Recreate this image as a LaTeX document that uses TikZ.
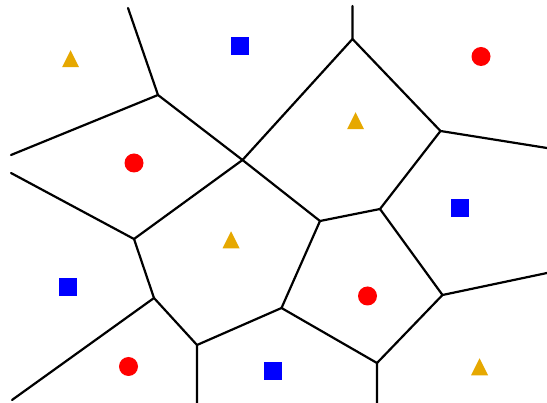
\documentclass[tikz,border=0pt]{standalone}
\usetikzlibrary{shapes.geometric}
\definecolor{siteyellow}{RGB}{230,168,0}
\begin{document}
\begin{tikzpicture}[x=1pt, y=-1pt, line join=round, line cap=round,
    edge/.style={line width=2.2pt},
    dot/.style={circle, fill=red, inner sep=0pt, minimum size=19pt},
    sq/.style={rectangle, fill=blue, inner sep=0pt, minimum size=18pt},
    tri/.style={isosceles triangle, isosceles triangle stretches, shape border rotate=90, fill=siteyellow, inner sep=0pt, minimum height=17pt, minimum width=17pt}]
		\useasboundingbox (0,0) rectangle (547,403);
		% voronoi vertices
		\path (352.5,39) coordinate (T) (440.5,131) coordinate (R) (242.5,160) coordinate (X)
			(158,95) coordinate (UL) (134,239) coordinate (L) (320,221) coordinate (M1)
			(380,209) coordinate (M2) (154,298) coordinate (BL) (197,345) coordinate (B1)
			(281.5,308) coordinate (B2) (442.5,295) coordinate (BR) (377,363) coordinate (B3);
		% open ends at the border
		\path (352.5,6) coordinate (eT) (547,148) coordinate (eR) (128,8) coordinate (eUL)
			(11,155) coordinate (eL1) (11,173) coordinate (eL2) (12,400) coordinate (eBL)
			(197,403) coordinate (eB1) (547,273) coordinate (eBR) (377,403) coordinate (eB3);
		\draw[edge] (eT)--(T) (T)--(X) (T)--(R) (R)--(eR) (R)--(M2) (M2)--(M1) (M1)--(X)
			(X)--(UL) (X)--(L) (UL)--(eUL) (UL)--(eL1) (eL2)--(L) (L)--(BL) (BL)--(eBL)
			(BL)--(B1) (B1)--(eB1) (B1)--(B2) (B2)--(M1) (B2)--(B3) (M2)--(BR) (BR)--(eBR)
			(BR)--(B3) (B3)--(eB3);
		% sites
		\foreach \name/\x/\y/\kind in {t1/70.5/62/tri, s1/239.5/46.5/sq, c1/481/56.5/dot, t2/355.5/124/tri,
			c2/134/163/dot, s2/459.5/208.5/sq, t3/231/243/tri, s3/67.5/287.5/sq, c3/367.5/296/dot,
			c4/128.5/366.5/dot, s4/272.5/371/sq, t4/479.5/370/tri}
			\node[\kind] (\name) at (\x,\y) {};
\end{tikzpicture}
\end{document}
